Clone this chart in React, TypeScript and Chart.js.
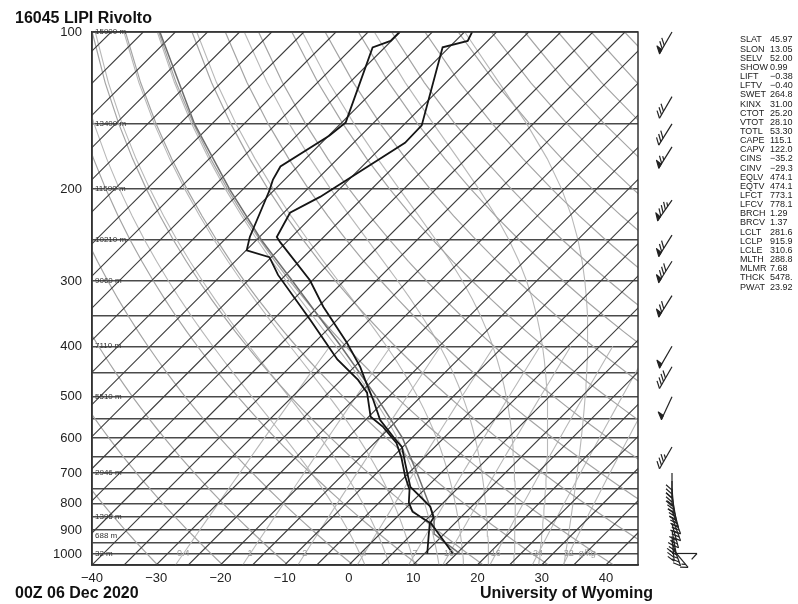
import React, { useEffect, useRef } from "react";
import { Chart, registerables } from "chart.js";

Chart.register(...registerables);

// ---------------- data ----------------
const stationTitle = "16045 LIPI Rivolto";
const timeLabel = "00Z 06 Dec 2020";
const footerLabel = "University of Wyoming";

// observed temperature profile (hPa, degC)
const tempPressure = [998, 921, 871, 852, 812, 777, 744, 670, 624, 597, 554, 507, 464, 438, 394, 336, 299, 253, 247, 222, 207, 163, 151, 107, 104, 100];
const tempValues = [14.4, 9.5, 6.1, 5.8, 3.6, 0.5, -2.6, -7.1, -10.1, -13.0, -17.7, -21.9, -26.3, -29.1, -34.9, -44.2, -50.4, -60.9, -62.3, -64.0, -61.8, -57.0, -57.1, -66.0, -63.1, -63.8];

// observed dewpoint profile (hPa, degC)
const dewPressure = [998, 927, 871, 858, 830, 797, 753, 711, 653, 613, 570, 546, 491, 464, 424, 356, 292, 270, 262, 247, 201, 192, 181, 158, 149, 107, 104, 100];
const dewValues = [10.4, 8.0, 6.0, 4.6, 1.6, -0.4, -2.3, -5.0, -8.6, -11.6, -16.3, -19.7, -24.0, -27.4, -33.8, -44.2, -56.2, -60.3, -64.9, -66.5, -70.7, -71.8, -72.7, -69.9, -69.4, -76.9, -75.1, -75.1];

// lifted parcel path (hPa, degC)
const parcelPressure = [1000, 950, 915.9, 850, 700, 600, 500, 400, 300, 250, 200, 150, 100];
const parcelValues = [15.6, 11.4, 8.45, 5.8, -3.7, -11.4, -21.9, -35.3, -53.0, -64.3, -77.1, -92.7, -112.4];

// winds (hPa, direction deg, speed kt)
const windPressure = [100, 133, 150, 166, 210, 245, 275, 320, 400, 438, 500, 624, 700, 725, 750, 775, 800, 825, 850, 875, 900, 925, 950, 975, 998];
const windDirection = [210, 210, 212, 212, 215, 212, 212, 212, 210, 210, 205, 210, 180, 180, 175, 170, 165, 160, 160, 165, 170, 175, 160, 140, 90];
const windSpeed = [70, 30, 30, 65, 85, 70, 80, 70, 50, 40, 50, 35, 30, 30, 30, 30, 35, 35, 35, 30, 35, 30, 25, 15, 10];

// standard level heights
const heightPressure = [100, 150, 200, 250, 300, 400, 500, 700, 850, 925, 1000];
const heightLabels = ["15900 m", "13400 m", "11590 m", "10210 m", "9060 m", "7110 m", "5510 m", "2946 m", "1396 m", "688 m", "32 m"];

// axes
const isobarTicks = [100, 150, 200, 250, 300, 350, 400, 450, 500, 550, 600, 650, 700, 750, 800, 850, 900, 950, 1000, 1050];
const pressureLabels = [100, 200, 300, 400, 500, 600, 700, 800, 900, 1000];
const tempTicks = [-40, -30, -20, -10, 0, 10, 20, 30, 40];

// background diagram lines
const isothermValues = [-120, -115, -110, -105, -100, -95, -90, -85, -80, -75, -70, -65, -60, -55, -50, -45, -40, -35, -30, -25, -20, -15, -10, -5, 0, 5, 10, 15, 20, 25, 30, 35, 40, 45];
const dryAdiabatThetas = [230, 240, 250, 260, 270, 280, 290, 300, 310, 320, 330, 340, 350, 360, 370, 380, 390, 400, 410, 420, 430, 440, 450, 460];
const moistAdiabatStarts = [0, 4, 8, 12, 16, 20, 24, 28, 32];
const mixingRatios = [0.4, 1, 2, 4, 7, 10, 16, 24, 32];
const mixingLabels = ["0.4", "1", "2", "4", "7", "10", "16", "24", "32"];
const curveLevels = [1050, 1025, 1000, 975, 950, 925, 900, 875, 850, 825, 800, 775, 750, 725, 700, 675, 650, 625, 600, 575, 550, 525, 500, 475, 450, 425, 400, 375, 350, 325, 300, 275, 250, 225, 200, 175, 150, 125, 100];

// stability indices table
const indexNames = ["SLAT", "SLON", "SELV", "SHOW", "LIFT", "LFTV", "SWET", "KINX", "CTOT", "VTOT", "TOTL", "CAPE", "CAPV", "CINS", "CINV", "EQLV", "EQTV", "LFCT", "LFCV", "BRCH", "BRCV", "LCLT", "LCLP", "LCLE", "MLTH", "MLMR", "THCK", "PWAT"];
const indexValues = ["45.97", "13.05", "52.00", "0.99", "\u22120.38", "\u22120.40", "264.8", "31.00", "25.20", "28.10", "53.30", "115.1", "122.0", "\u221235.2", "\u221229.3", "474.1", "474.1", "773.1", "778.1", "1.29", "1.37", "281.6", "915.9", "310.6", "288.8", "7.68", "5478.", "23.92"];

// ---------------- helpers ----------------
const P_BOTTOM = 1050;
const P_TOP = 100;
const SKEW = 81.25;
const FONT = "'Liberation Sans', Arial, Helvetica, sans-serif";

const skewX = (t: number, p: number) => t + SKEW * Math.log10(P_BOTTOM / p);

function profile(ps: number[], ts: number[]) {
  return ps.map((p, i) => ({ x: skewX(ts[i], p), y: p }));
}

function satVap(tK: number) {
  return 6.112 * Math.exp((17.67 * (tK - 273.15)) / (tK - 29.65));
}

function moistLapse(p: number, tK: number) {
  const Rd = 287.04, Cp = 1005.7, Lv = 2.501e6, eps = 0.622;
  const es = satVap(tK);
  const rs = (eps * es) / (p - es);
  return (Rd * tK + Lv * rs) / (p * (Cp + (Lv * Lv * rs * eps) / (Rd * tK * tK)));
}

function moistCurve(t1000: number) {
  const out: { x: number; y: number }[] = [];
  const record = new Map<number, number>();
  let T = t1000 + 273.15;
  let p = 1000;
  record.set(1000, T);
  while (p < 1050) {
    const h = 5;
    const k1 = moistLapse(p, T);
    const k2 = moistLapse(p + h / 2, T + (k1 * h) / 2);
    T += k2 * h;
    p += h;
    record.set(Math.round(p), T);
  }
  T = t1000 + 273.15;
  p = 1000;
  while (p > 100) {
    const h = -5;
    const k1 = moistLapse(p, T);
    const k2 = moistLapse(p + h / 2, T + (k1 * h) / 2);
    T += k2 * h;
    p += h;
    record.set(Math.round(p), T);
  }
  curveLevels.forEach((lv) => {
    const v = record.get(lv);
    if (v !== undefined) out.push({ x: skewX(v - 273.15, lv), y: lv });
  });
  return out;
}

function mixingTd(w: number, p: number) {
  const e = (w * p) / (622 + w);
  const l = Math.log(e / 6.112);
  return (243.5 * l) / (17.67 - l);
}

function line(data: { x: number; y: number }[], color: string, width: number, order: number) {
  return {
    data,
    borderColor: color,
    backgroundColor: color,
    borderWidth: width,
    pointRadius: 0,
    pointHoverRadius: 0,
    showLine: true,
    fill: false,
    tension: 0,
    order,
  };
}

function drawBarb(ctx: CanvasRenderingContext2D, x: number, y: number, dirDeg: number, kt: number) {
  const L = 25;
  const rad = (dirDeg * Math.PI) / 180;
  const ux = Math.sin(rad);
  const uy = -Math.cos(rad);
  const tx = x + ux * L;
  const ty = y + uy * L;
  ctx.beginPath();
  ctx.moveTo(x, y);
  ctx.lineTo(tx, ty);
  ctx.stroke();
  const a = Math.atan2(uy, ux) + (132 * Math.PI) / 180;
  const fx = Math.cos(a);
  const fy = Math.sin(a);
  const flen = 8;
  const at = (d: number) => [tx - ux * d, ty - uy * d];
  let rem = Math.round(kt / 5) * 5;
  let pos = 0;
  while (rem >= 50) {
    const [x0, y0] = at(pos);
    const [x1, y1] = at(pos + 4.5);
    ctx.beginPath();
    ctx.moveTo(x0, y0);
    ctx.lineTo(x0 + fx * flen, y0 + fy * flen);
    ctx.lineTo(x1, y1);
    ctx.closePath();
    ctx.fill();
    ctx.stroke();
    pos += 5.5;
    rem -= 50;
  }
  while (rem >= 10) {
    const [x0, y0] = at(pos);
    ctx.beginPath();
    ctx.moveTo(x0, y0);
    ctx.lineTo(x0 + fx * flen, y0 + fy * flen);
    ctx.stroke();
    pos += 4;
    rem -= 10;
  }
  if (rem >= 5) {
    if (pos === 0) pos = 4;
    const [x0, y0] = at(pos);
    ctx.beginPath();
    ctx.moveTo(x0, y0);
    ctx.lineTo(x0 + fx * flen * 0.5, y0 + fy * flen * 0.5);
    ctx.stroke();
  }
}

const decorPlugin = {
  id: "skewDecor",
  beforeDraw(chart: any) {
    const ctx = chart.ctx;
    ctx.save();
    ctx.fillStyle = "#ffffff";
    ctx.fillRect(0, 0, chart.width, chart.height);
    ctx.restore();
  },
  afterDatasetsDraw(chart: any) {
    const ctx: CanvasRenderingContext2D = chart.ctx;
    const xs = chart.scales.x;
    const ys = chart.scales.y;
    const area = chart.chartArea;
    ctx.save();
    ctx.strokeStyle = "#333";
    ctx.lineWidth = 1.5;
    ctx.strokeRect(area.left, area.top, area.right - area.left, area.bottom - area.top);
    ctx.fillStyle = "#333";
    ctx.font = `8px ${FONT}`;
    ctx.textAlign = "left";
    ctx.textBaseline = "middle";
    heightPressure.forEach((p, i) => {
      ctx.fillText(heightLabels[i], area.left + 3, ys.getPixelForValue(p));
    });
    ctx.fillStyle = "#9a9a9a";
    ctx.font = `9px ${FONT}`;
    ctx.textAlign = "center";
    const yl = ys.getPixelForValue(1000);
    let lastX = 0;
    mixingRatios.forEach((w, i) => {
      const px = xs.getPixelForValue(skewX(mixingTd(w, 1000), 1000));
      ctx.fillText(mixingLabels[i], px, yl);
      lastX = px;
    });
    ctx.textAlign = "left";
    ctx.fillText("g/kg", lastX + 10, yl);
    ctx.restore();
  },
  afterDraw(chart: any) {
    const ctx: CanvasRenderingContext2D = chart.ctx;
    const ys = chart.scales.y;
    ctx.save();
    ctx.strokeStyle = "#222";
    ctx.fillStyle = "#222";
    ctx.lineWidth = 1.2;
    ctx.lineJoin = "round";
    windPressure.forEach((p, i) => {
      drawBarb(ctx, 672, ys.getPixelForValue(p), windDirection[i], windSpeed[i]);
    });
    ctx.fillStyle = "#222";
    ctx.font = `9px ${FONT}`;
    ctx.textAlign = "left";
    ctx.textBaseline = "middle";
    indexNames.forEach((n, i) => {
      const yy = 40 + i * 9.15;
      ctx.fillText(n, 740, yy);
      ctx.fillText(indexValues[i], 770, yy);
    });
    ctx.fillStyle = "#111";
    ctx.font = `bold 16px ${FONT}`;
    ctx.textBaseline = "alphabetic";
    ctx.fillText(stationTitle, 15, 23);
    ctx.fillText(timeLabel, 15, 598);
    ctx.fillText(footerLabel, 480, 598);
    ctx.restore();
  },
};

export default function App() {
  const ref = useRef<HTMLCanvasElement | null>(null);

  useEffect(() => {
    document.body.style.margin = "0";
    const canvas = ref.current;
    if (!canvas) return;

    const datasets: any[] = [];
    datasets.push(line(profile(tempPressure, tempValues), "#151515", 1.8, 0));
    datasets.push(line(profile(dewPressure, dewValues), "#151515", 1.8, 0));
    datasets.push(line(profile(parcelPressure, parcelValues), "#6e6e6e", 1.5, 1));
    isothermValues.forEach((t) => {
      datasets.push(line([{ x: skewX(t, P_BOTTOM), y: P_BOTTOM }, { x: skewX(t, P_TOP), y: P_TOP }], "#3c3c3c", 1.1, 4));
    });
    dryAdiabatThetas.forEach((th) => {
      const pts = curveLevels.map((p) => ({ x: skewX(th * Math.pow(p / 1000, 0.2857) - 273.15, p), y: p }));
      datasets.push(line(pts, "#a4a4a4", 1.2, 5));
    });
    moistAdiabatStarts.forEach((t0) => {
      datasets.push(line(moistCurve(t0), "#b8b8b8", 1.1, 6));
    });
    mixingRatios.forEach((w) => {
      const pts = curveLevels.filter((p) => p >= 400).map((p) => ({ x: skewX(mixingTd(w, p), p), y: p }));
      datasets.push(line(pts, "#b8b8b8", 1.1, 7));
    });

    Chart.defaults.font.family = FONT;

    const chart = new Chart(canvas, {
      type: "scatter",
      data: { datasets },
      options: {
        animation: false,
        responsive: false,
        maintainAspectRatio: false,
        events: [],
        layout: { padding: { top: 32, right: 160, left: 0, bottom: 0 } },
        plugins: { legend: { display: false }, tooltip: { enabled: false }, title: { display: false } },
        scales: {
          x: {
            type: "linear",
            min: -40,
            max: 45,
            afterBuildTicks: (s: any) => {
              s.ticks = tempTicks.map((v) => ({ value: v }));
            },
            afterFit: (s: any) => {
              s.height = 39;
            },
            grid: { display: false, drawTicks: false },
            border: { display: true, color: "#333", width: 1.5 },
            ticks: {
              autoSkip: false,
              maxRotation: 0,
              padding: 6,
              color: "#222",
              font: { size: 13, family: FONT },
              callback: (v: any) => (Number(v) < 0 ? "\u2212" + Math.abs(Number(v)) : String(v)),
            },
          },
          y: {
            type: "logarithmic",
            min: P_TOP,
            max: P_BOTTOM,
            reverse: true,
            afterBuildTicks: (s: any) => {
              s.ticks = isobarTicks.map((v) => ({ value: v }));
            },
            afterFit: (s: any) => {
              s.width = 92;
            },
            grid: { color: "#4a4a4a", lineWidth: 1.4, drawTicks: false },
            border: { display: true, color: "#333", width: 1.5 },
            ticks: {
              autoSkip: false,
              padding: 10,
              color: "#222",
              font: { size: 13, family: FONT },
              callback: (v: any) => (pressureLabels.includes(Number(v)) ? String(v) : ""),
            },
          },
        },
      },
      plugins: [decorPlugin],
    } as any);

    return () => chart.destroy();
  }, []);

  return (
    <div style={{ width: 798, height: 604, position: "relative", background: "#fff" }}>
      <canvas ref={ref} width={798} height={604} style={{ display: "block", width: "798px", height: "604px" }} />
    </div>
  );
}
